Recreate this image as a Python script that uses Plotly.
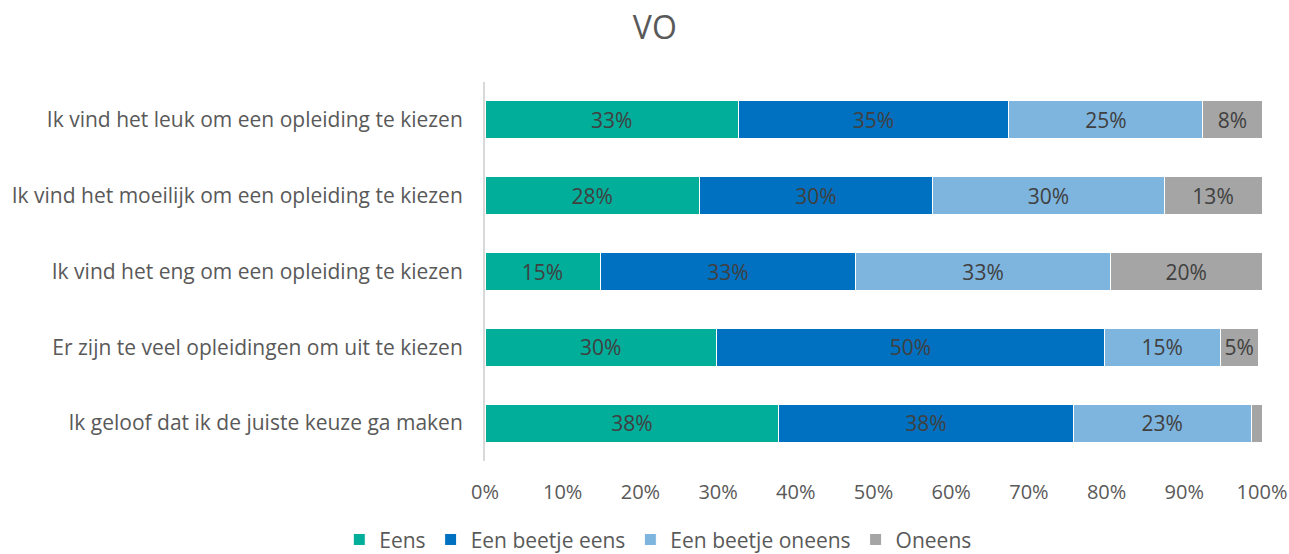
import plotly.graph_objects as go

# vragen, van boven naar beneden
categories = [
    "Ik vind het leuk om een opleiding te kiezen",
    "Ik vind het moeilijk om een opleiding te kiezen",
    "Ik vind het eng om een opleiding te kiezen",
    "Er zijn te veel opleidingen om uit te kiezen",
    "Ik geloof dat ik de juiste keuze ga maken",
]

# percentages per antwoordcategorie
eens = [32.6, 27.6, 14.8, 29.8, 37.8]
beetje_eens = [34.8, 30.0, 32.9, 49.9, 37.9]
beetje_oneens = [25.0, 29.8, 32.8, 14.9, 22.9]
oneens = [7.6, 12.6, 19.5, 4.9, 1.4]

series = [
    ("Eens", eens, "#00AE9A"),
    ("Een beetje eens", beetje_eens, "#0070C0"),
    ("Een beetje oneens", beetje_oneens, "#7EB5DE"),
    ("Oneens", oneens, "#A5A5A5"),
]

FONT = "Open Sans"
GREY = "#595959"
SIZE = 21
W, H = 1289, 554

fig = go.Figure()
for name, vals, color in series:
    # tiny segments get no label, as in the original
    labels = [f"{v:.0f}%" if v >= 2 else "" for v in vals]
    fig.add_trace(go.Bar(
        name=name,
        y=categories,
        x=vals,
        orientation="h",
        marker=dict(color=color, line=dict(color="white", width=1)),
        text=labels,
        textposition="inside",
        insidetextanchor="middle",
        textfont=dict(family=FONT, size=SIZE, color="#404040"),
        hoverinfo="name+x",
    ))

fig.update_layout(
    barmode="stack",
    bargap=0.5,
    width=W,
    height=H,
    paper_bgcolor="white",
    plot_bgcolor="white",
    font=dict(family=FONT, color=GREY),
    title=dict(text="VO", x=0.508, xanchor="center", y=1 - 28 / H, yanchor="middle",
               font=dict(family=FONT, size=32, color=GREY)),
    margin=dict(l=485, r=27, t=82, b=93, autoexpand=False),
    uniformtext=dict(mode="show", minsize=10),
    legend=dict(
        orientation="h",
        x=0.223, xanchor="center",
        y=-0.208, yanchor="middle",
        font=dict(family=FONT, size=SIZE, color=GREY),
        traceorder="normal",
        itemwidth=30,
    ),
)
fig.update_xaxes(
    range=[0, 100], dtick=10, ticksuffix="%",
    showgrid=False, zeroline=False, showline=False,
    tickfont=dict(family=FONT, size=20, color=GREY),
    ticks="", ticklabelstandoff=17,
)
fig.update_yaxes(
    autorange="reversed",
    showgrid=False, showline=True, linecolor="#D9D9D9", linewidth=2,
    ticks="", ticklabelstandoff=16,
    tickfont=dict(family=FONT, size=SIZE, color=GREY),
)

# drop the default body margin so the figure fills the window exactly
fig.write_html(
    "out.html",
    config={"displayModeBar": False},
    post_script="document.body.style.margin = '0px';",
)
